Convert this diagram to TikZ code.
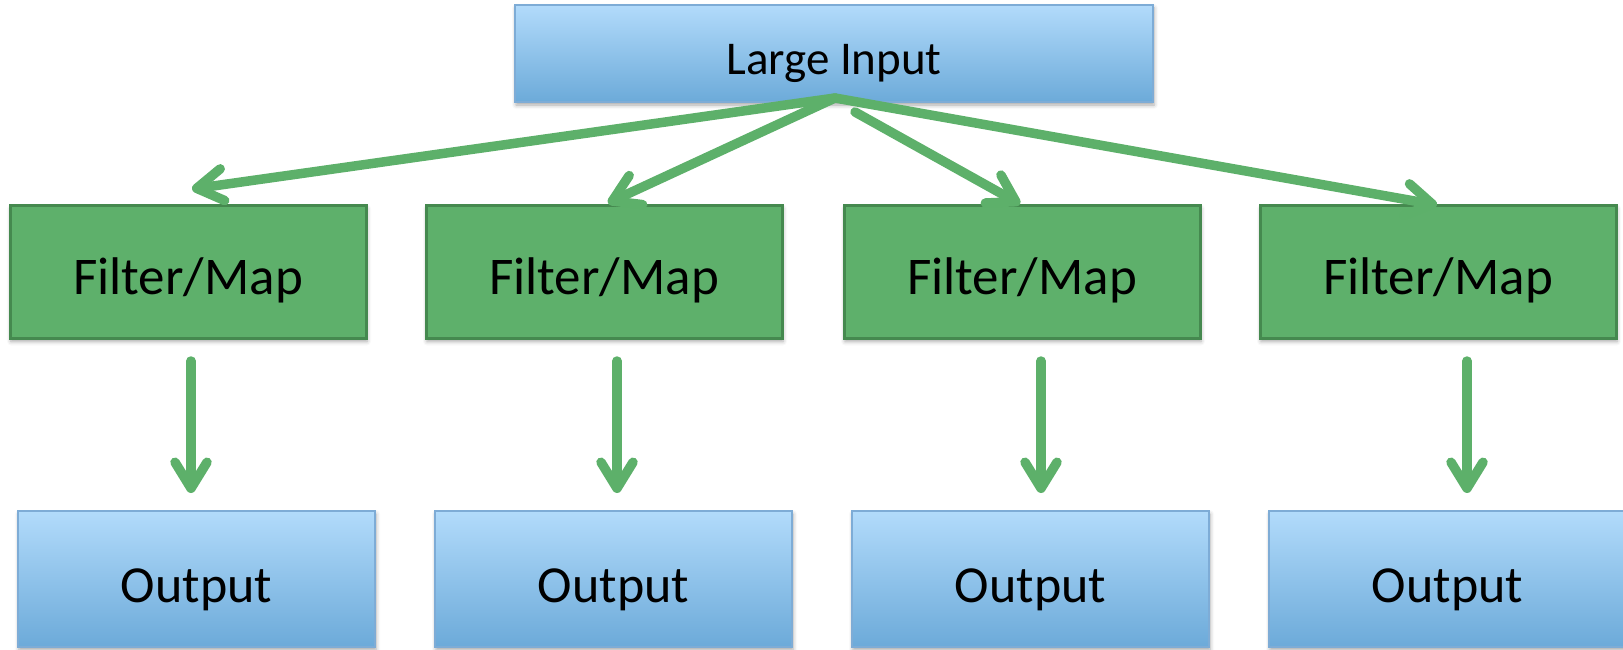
\documentclass[tikz,border=0pt]{standalone}
\usepackage{fontspec}
\setmainfont{Carlito}
\usetikzlibrary{arrows.meta,shadows.blur,calc}

\definecolor{bluetop}{HTML}{B2DBFB}
\definecolor{bluebot}{HTML}{6CAAD9}
\definecolor{blueedge}{HTML}{7EACD6}
\definecolor{greenfill}{HTML}{5EB06B}
\definecolor{greenedge}{HTML}{45894F}
\definecolor{arrowgreen}{HTML}{5DB06A}

\tikzset{
  softshadow/.style={blur shadow={shadow xshift=1pt, shadow yshift=-3pt,
      shadow blur radius=4pt, shadow opacity=35}},
  bluebox/.style={rectangle, draw=blueedge, line width=1.5pt,
      top color=bluetop, bottom color=bluebot, softshadow,
      inner sep=0pt, text=black},
  inputbox/.style={bluebox, minimum width=638pt, minimum height=97pt,
      text height=42pt, text depth=0pt,
      font=\fontsize{47}{50}\selectfont},
  outbox/.style={bluebox, minimum width=357pt, minimum height=136pt,
      text height=46pt, text depth=0pt,
      font=\fontsize{52}{56}\selectfont},
  filterbox/.style={rectangle, draw=greenedge, line width=3pt, fill=greenfill,
      softshadow, minimum width=356pt, minimum height=133pt, inner sep=0pt,
      text height=45pt, text depth=0pt,
      text=black, font=\fontsize{53}{56}\selectfont},
  flow/.style={draw=arrowgreen, line width=9.5pt, line cap=round,
      -{Straight Barb[length=26pt, width=32pt, round]}},
}

\begin{document}
\begin{tikzpicture}[x=1pt, y=-1pt]
  \useasboundingbox (0,0) rectangle (1623,650);

  % source
  \node[inputbox] (in) at (834,53.5) {Large Input};

  % filter/map stage
  \node[filterbox] (f1) at (188,272) {Filter/Map};
  \node[filterbox] (f2) at (604,272) {Filter/Map};
  \node[filterbox] (f3) at (1022,272) {Filter/Map};
  \node[filterbox] (f4) at (1438,272) {Filter/Map};

  % outputs
  \node[outbox] (o1) at (196.5,579) {Output};
  \node[outbox] (o2) at (613.5,579) {Output};
  \node[outbox] (o3) at (1030.5,579) {Output};
  \node[outbox] (o4) at (1447.5,579) {Output};

  % fan-out points
  \coordinate (src) at (835,98);
  \coordinate (src3) at (855,112);
  \coordinate (t1) at (192,189);
  \coordinate (t2) at (608,203);
  \coordinate (t3) at (1020,204);
  \coordinate (t4) at (1437,205);

  \draw[flow] (src) -- (t1);
  \draw[flow] (src) -- (t2);
  \draw[flow] (src3) -- (t3);
  \draw[flow] (src) -- (t4);

  % filter to output
  \coordinate (d1a) at (191,361); \coordinate (d1b) at (191,493);
  \coordinate (d2a) at (617,361); \coordinate (d2b) at (617,493);
  \coordinate (d3a) at (1041,361); \coordinate (d3b) at (1041,493);
  \coordinate (d4a) at (1467,361); \coordinate (d4b) at (1467,493);

  \draw[flow] (d1a) -- (d1b);
  \draw[flow] (d2a) -- (d2b);
  \draw[flow] (d3a) -- (d3b);
  \draw[flow] (d4a) -- (d4b);
\end{tikzpicture}
\end{document}
